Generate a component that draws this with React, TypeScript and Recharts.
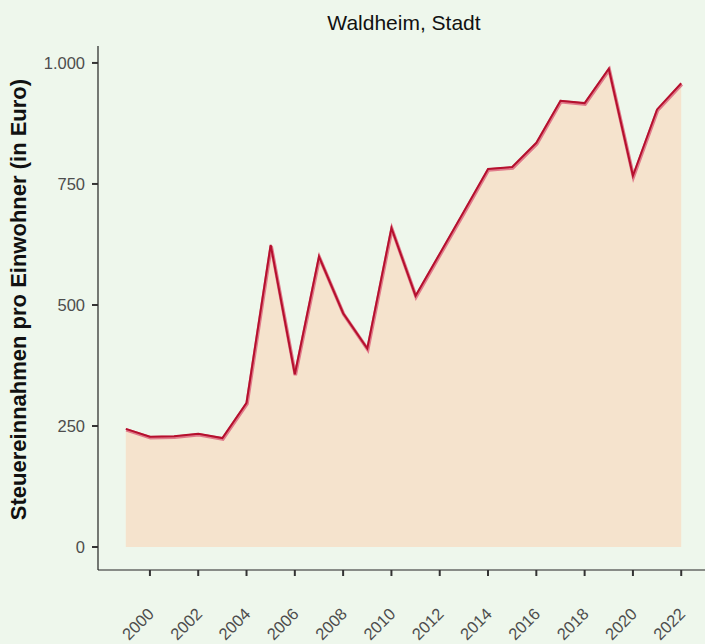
import React from "react";
import { ComposedChart, Area, Line, XAxis, YAxis } from "recharts";

const years = [1999, 2000, 2001, 2002, 2003, 2004, 2005, 2006, 2007, 2008, 2009, 2010, 2011, 2012, 2013, 2014, 2015, 2016, 2017, 2018, 2019, 2020, 2021, 2022];
const values = [244, 228, 229, 234, 225, 298, 624, 357, 600, 483, 410, 659, 519, 606, 693, 781, 785, 835, 922, 917, 988, 767, 904, 958];
const xTicks = [2000, 2002, 2004, 2006, 2008, 2010, 2012, 2014, 2016, 2018, 2020, 2022];
const yTicks = [0, 250, 500, 750, 1000];
const title = "Waldheim, Stadt";
const yLabel = "Steuereinnahmen pro Einwohner (in Euro)";

const data = years.map((y, i) => ({ year: y, v: values[i] }));

const FONT = "'Liberation Sans', Arial, Helvetica, sans-serif";
const BG = "#EEF7EC";

const fmt = (n: number) => n.toLocaleString("de-DE");

const YTick = (props: any) => {
  const { x, y, payload } = props;
  return (
    <text x={x} y={y} dy={5.9} textAnchor="end" fill="#4D4D4D" fontSize={16.5} fontFamily={FONT}>
      {fmt(payload.value)}
    </text>
  );
};

const XTick = (props: any) => {
  const { x, payload } = props;
  const ax = x + 5;
  const ay = 615;
  return (
    <text x={ax} y={ay} textAnchor="end" fill="#4D4D4D" fontSize={16.5} fontFamily={FONT} transform={`rotate(-45, ${ax}, ${ay})`}>
      {payload.value}
    </text>
  );
};

export default function App() {
  return (
    <div style={{ position: "absolute", left: 0, top: 0, width: 705, height: 644, overflow: "hidden", background: BG }}>
      <style>{`.pinkline { transform: translate(0.5px, 1px); }`}</style>
      <ComposedChart width={712} height={644} data={data} margin={{ top: 46, right: 3, left: 0, bottom: 0 }}>
        <XAxis
          dataKey="year"
          type="number"
          domain={[1997.85, 2023.15]}
          ticks={xTicks}
          allowDataOverflow
          height={74}
          tickSize={6}
          tickMargin={2}
          axisLine={{ stroke: "#222", strokeWidth: 1.2 }}
          tickLine={{ stroke: "#333", strokeWidth: 2 }}
          tick={<XTick />}
          interval={0}
        />
        <YAxis
          type="number"
          domain={[-47.5, 1035]}
          ticks={yTicks}
          allowDataOverflow
          width={98}
          tickSize={6}
          tickMargin={7}
          axisLine={{ stroke: "#222", strokeWidth: 1.2 }}
          tickLine={{ stroke: "#333", strokeWidth: 2 }}
          tick={<YTick />}
          interval={0}
        />
        <Area dataKey="v" type="linear" baseValue={0} fill="#F5E3CD" fillOpacity={1} stroke="none" isAnimationActive={false} />
        <Line dataKey="v" type="linear" className="pinkline" stroke="#E07A8A" strokeWidth={3.5} dot={false} isAnimationActive={false} />
        <Line dataKey="v" type="linear" stroke="#B5102E" strokeWidth={2} dot={false} isAnimationActive={false} />
      </ComposedChart>
      <svg width={705} height={644} style={{ position: "absolute", left: 0, top: 0, pointerEvents: "none" }}>
        <text x={404} y={29.5} textAnchor="middle" fontSize={21} fill="#111" fontFamily={FONT}>
          {title}
        </text>
        <text x={26} y={299.5} textAnchor="middle" fontSize={22} fontWeight="bold" fill="#111" fontFamily={FONT} transform="rotate(-90, 26, 299.5)">
          {yLabel}
        </text>
      </svg>
    </div>
  );
}
